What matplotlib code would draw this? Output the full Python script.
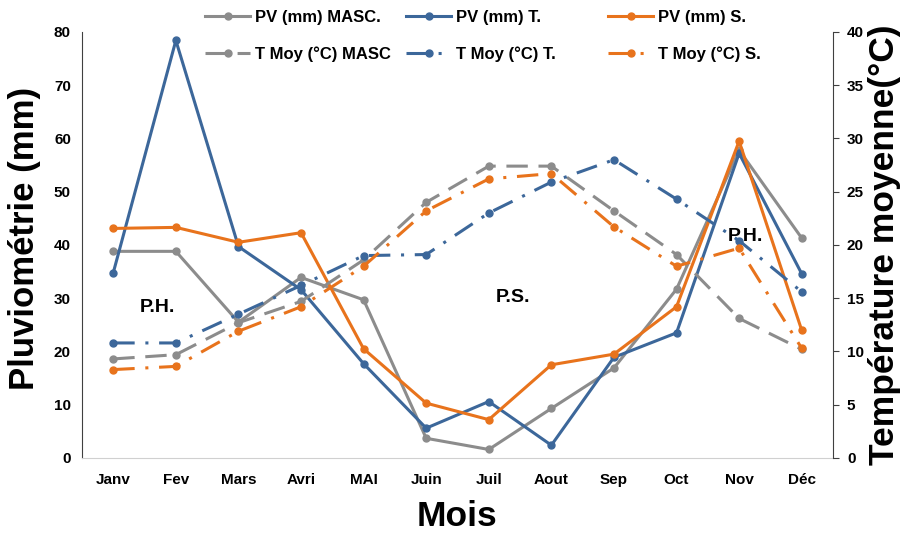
import matplotlib
matplotlib.use("Agg")
import matplotlib.pyplot as plt
import numpy as np

plt.rcParams['font.family'] = ['Liberation Sans', 'DejaVu Sans']
plt.rcParams['font.weight'] = 'bold'

mois = ["Janv", "Fev", "Mars", "Avri", "MAI", "Juin", "Juil", "Aout", "Sep", "Oct", "Nov", "Déc"]

# Pluviométrie (mm)
pv_masc = [38.8, 38.8, 25.5, 33.9, 29.7, 3.7, 1.6, 9.3, 16.9, 31.7, 57.8, 41.3]
pv_t = [34.8, 78.4, 39.7, 31.6, 17.7, 5.6, 10.6, 2.4, 18.9, 23.5, 57.2, 34.6]
pv_s = [43.1, 43.3, 40.5, 42.3, 20.5, 10.3, 7.2, 17.5, 19.5, 28.4, 59.5, 24.0]

# Température moyenne (°C)
t_masc = [9.3, 9.7, 12.7, 14.7, 18.6, 24.0, 27.4, 27.4, 23.2, 19.1, 13.1, 10.2]
t_t = [10.8, 10.8, 13.5, 16.2, 19.0, 19.1, 23.0, 25.9, 28.0, 24.3, 20.4, 15.6]
t_s = [8.3, 8.6, 11.9, 14.2, 18.0, 23.2, 26.2, 26.7, 21.7, 18.0, 19.7, 10.3]

GRAY = "#8c8c8c"
BLUE = "#3c679a"
ORANGE = "#e8731c"

x = np.arange(len(mois))

fig = plt.figure(figsize=(9.07, 5.38), dpi=100)
ax = fig.add_axes([0.0904, 0.1487, 0.828, 0.792])
ax2 = ax.twinx()

lw = 2.2
ms = 5
long_dash = (0, (7, 3.5))
long_dash_dot = (0, (7, 3.5, 1, 3.5))

h1, = ax.plot(x, pv_masc, color=GRAY, lw=lw, marker='o', ms=ms, label="PV (mm) MASC.")
h3, = ax.plot(x, pv_t, color=BLUE, lw=lw, marker='o', ms=ms, label="PV (mm) T.")
h5, = ax.plot(x, pv_s, color=ORANGE, lw=lw, marker='o', ms=ms, label="PV (mm) S.")

h2, = ax2.plot(x, t_masc, color=GRAY, lw=lw, ls=long_dash, marker='o', ms=ms, label="T Moy (°C) MASC")
h4, = ax2.plot(x, t_t, color=BLUE, lw=lw, ls=long_dash_dot, marker='o', ms=ms, label="T Moy (°C) T.")
h6, = ax2.plot(x, t_s, color=ORANGE, lw=lw, ls=long_dash_dot, marker='o', ms=ms, label="T Moy (°C) S.")

ax.set_xlim(-0.5, 11.5)
ax.set_ylim(0, 80)
ax2.set_ylim(0, 40)
ax.set_yticks(np.arange(0, 81, 10))
ax2.set_yticks(np.arange(0, 41, 5))
ax.set_xticks(x)
ax.set_xticklabels(mois)

for a in (ax, ax2):
    a.spines['top'].set_visible(False)
    a.tick_params(axis='both', labelsize=11)
ax.spines['right'].set_visible(False)
ax.spines['left'].set_color('#404040')
ax.spines['bottom'].set_color('#d0d0d0')
ax2.spines['left'].set_visible(False)
ax2.spines['bottom'].set_visible(False)
ax2.spines['right'].set_color('#404040')
ax.tick_params(axis='y', length=0, pad=8)
ax.tick_params(axis='x', length=0, pad=11)
ax2.tick_params(axis='y', length=4, direction='out', color='#404040', pad=6)

ax.set_ylabel("Pluviométrie (mm)", fontsize=25, fontweight='bold')
ax.yaxis.set_label_coords(-0.055, 0.515)
ax2.set_ylabel("Température moyenne(°C)", fontsize=25.5, fontweight='bold', labelpad=3)
ax.set_xlabel("Mois", fontsize=25.5, fontweight='bold', labelpad=9)

ax.text(0.7, 28.2, "P.H.", fontsize=14, fontweight='bold', ha='center', va='center')
ax.text(6.38, 30.1, "P.S.", fontsize=14, fontweight='bold', ha='center', va='center')
ax.text(10.1, 41.6, "P.H.", fontsize=14, fontweight='bold', ha='center', va='center', zorder=10)

# legend: three columns, each pairing a rainfall series with its temperature series
col_x = [205, 406, 608]
for cx, hs in zip(col_x, [(h1, h2), (h3, h4), (h5, h6)]):
    fig.legend(handles=list(hs), loc='upper left', bbox_to_anchor=(cx / 907, 1 - 10 / 538),
               frameon=False, fontsize=12, handlelength=2.7, labelspacing=1.3,
               handletextpad=0.3, borderpad=0, borderaxespad=0)

fig.savefig("out.png", dpi=100)
